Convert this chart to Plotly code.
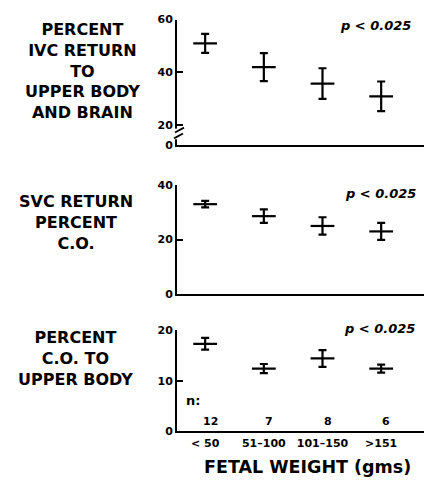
import plotly.graph_objects as go

W, H = 424, 487

categories = ["< 50", "51–100", "101–150", ">151"]
n_counts = [12, 7, 8, 6]

ivc_mean = [51.0, 42.0, 35.8, 31.0]
ivc_err = [3.6, 5.3, 5.8, 5.6]

svc_mean = [33.0, 28.6, 25.0, 23.0]
svc_err = [1.2, 2.5, 3.2, 3.1]

co_mean = [17.3, 12.4, 14.4, 12.4]
co_err = [1.15, 0.9, 1.65, 0.8]

p_text = "p < 0.025"
FONT = "DejaVu Sans"


def px(x):
    return x / W


def py(y):
    return 1 - y / H


fig = go.Figure()

for i, (m, e) in enumerate([(ivc_mean, ivc_err), (svc_mean, svc_err), (co_mean, co_err)]):
    sfx = "" if i == 0 else str(i + 1)
    fig.add_trace(go.Scatter(
        x=categories, y=m, mode="markers",
        marker=dict(symbol="line-ew-open", size=17, color="black",
                    line=dict(width=2.2, color="black")),
        error_y=dict(type="data", array=e, visible=True, color="black",
                     thickness=2.2, width=4),
        xaxis="x" + sfx, yaxis="y" + sfx, showlegend=False, hoverinfo="skip",
    ))

xdom = [px(177), 1.0]
common_x = dict(type="category", range=[-0.48, 3.73], showline=True, linewidth=2,
                linecolor="black", showgrid=False, zeroline=False, ticks="",
                fixedrange=True)
common_y = dict(showline=True, linewidth=2, linecolor="black", showgrid=False,
                zeroline=False, ticks="inside", ticklen=6, tickwidth=2,
                tickcolor="black",
                tickfont=dict(family=FONT, size=11, color="black", weight="bold"))

layout = dict(
    width=W, height=H, margin=dict(l=0, r=0, t=0, b=0),
    paper_bgcolor="white", plot_bgcolor="white",
    xaxis=dict(domain=xdom, anchor="y", showticklabels=False, **common_x),
    xaxis2=dict(domain=xdom, anchor="y2", showticklabels=False, **common_x),
    xaxis3=dict(domain=xdom, anchor="y3", showticklabels=True,
                tickfont=dict(family=FONT, size=11, color="black", weight="bold"),
                **common_x),
    yaxis=dict(domain=[py(143), py(14)], anchor="x", range=[12.5, 60],
               tickvals=[12.5, 20, 40, 60], ticktext=["0", "20", "40", "60"],
               **common_y),
    yaxis2=dict(domain=[py(296), py(184)], anchor="x2", range=[0, 40],
                tickvals=[0, 20, 40], **common_y),
    yaxis3=dict(domain=[py(437), py(333)], anchor="x3", range=[0, 20],
                tickvals=[0, 10, 20], **common_y),
)
fig.update_layout(**layout)

lab_font = dict(family=FONT, size=16, color="black", weight="bold")
ann = []
ann.append(dict(text="PERCENT<br>IVC RETURN<br>TO<br>UPPER BODY<br>AND BRAIN",
                x=px(82), y=py(67), xref="paper", yref="paper", showarrow=False,
                align="center", font=lab_font, xanchor="center", yanchor="middle"))
ann.append(dict(text="SVC RETURN<br>PERCENT<br>C.O.",
                x=px(76), y=py(222), xref="paper", yref="paper", showarrow=False,
                align="center", font=lab_font, xanchor="center", yanchor="middle"))
ann.append(dict(text="PERCENT<br>C.O. TO<br>UPPER BODY",
                x=px(75), y=py(362), xref="paper", yref="paper", showarrow=False,
                align="center", font=lab_font, xanchor="center", yanchor="middle"))

p_font = dict(family=FONT, size=13, color="black", weight="bold", style="italic")
for (xc, yc) in [(375, 20), (380, 193), (379, 331)]:
    ann.append(dict(text=p_text, x=px(xc), y=py(yc), xref="paper", yref="paper",
                    showarrow=False, font=p_font, xanchor="center", yanchor="middle"))

ann.append(dict(text="n:", x=px(193), y=py(405), xref="paper", yref="paper",
                showarrow=False, font=dict(family=FONT, size=13, color="black", weight="bold"),
                xanchor="center", yanchor="middle"))
for c, n in zip(categories, n_counts):
    ann.append(dict(text=str(n), x=c, y=py(427), xref="x3", yref="paper",
                    showarrow=False, font=dict(family=FONT, size=11, color="black", weight="bold"),
                    xanchor="center", yanchor="middle", xshift=5))

ann.append(dict(text="FETAL WEIGHT (gms)", x=px(307), y=py(474), xref="paper", yref="paper",
                showarrow=False, font=dict(family=FONT, size=17.5, color="black", weight="bold"),
                xanchor="center", yanchor="middle"))
fig.update_layout(annotations=ann)

# axis break on top panel: gap in the axis line plus two slashes
fig.add_shape(type="line", xref="paper", yref="paper",
              x0=px(177), y0=py(126), x1=px(177), y1=py(137),
              line=dict(color="white", width=4))
fig.add_shape(type="line", xref="paper", yref="paper",
              x0=px(175), y0=py(130), x1=px(184), y1=py(125),
              line=dict(color="black", width=1.8))
fig.add_shape(type="line", xref="paper", yref="paper",
              x0=px(174), y0=py(136), x1=px(183), y1=py(131),
              line=dict(color="black", width=1.8))

fig.write_html("out.html")
